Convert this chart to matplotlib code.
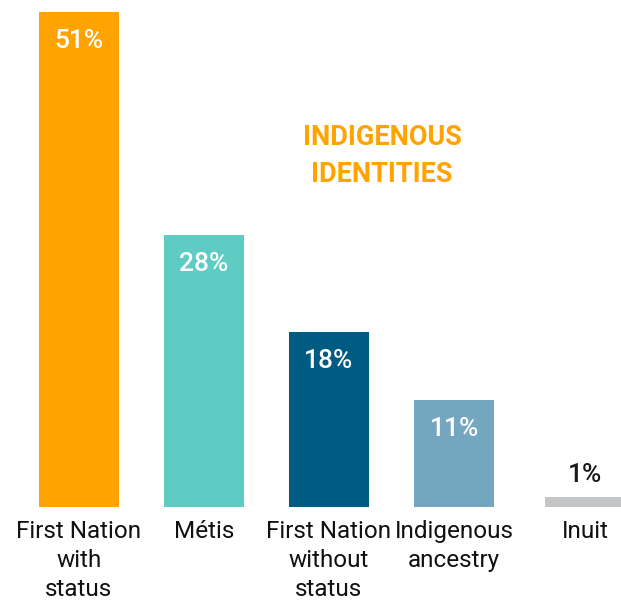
import matplotlib
matplotlib.use("Agg")
import matplotlib.pyplot as plt

categories = ["First Nation\nwith\nstatus", "Métis", "First Nation\nwithout\nstatus",
              "Indigenous\nancestry", "Inuit"]
values = [51, 28, 18, 11, 1]
value_labels = ["51%", "28%", "18%", "11%", "1%"]
title = "INDIGENOUS\nIDENTITIES"

colors = ["#FFA300", "#5FCCC3", "#005B82", "#74A7BF", "#C4C5C7"]
positions = [0, 1, 2, 3, 4.05]

W, H = 621, 603
fig = plt.figure(figsize=(W / 100, H / 100), dpi=100)
base_px = 506.5
ax = fig.add_axes([0, (H - base_px) / H, 1, base_px / H])
px_per_unit = 125.0
x0 = 79.0
ax.set_xlim(-x0 / px_per_unit, (W - x0) / px_per_unit)
px_per_pct = (base_px - 12) / 51.0
ax.set_ylim(0, base_px / px_per_pct)

bars = ax.bar(positions, values, width=80 / px_per_unit, color=colors)

for b, v, lab in zip(bars, values, value_labels):
    cx = b.get_x() + b.get_width() / 2
    if v >= 5:
        ax.annotate(lab, (cx, v), xytext=(0, -12), textcoords="offset points",
                    ha="center", va="top", color="white", fontsize=19,
                    fontweight="medium", family="Roboto")
    else:
        ax.annotate(lab, (cx, v), xytext=(0, 7), textcoords="offset points",
                    ha="center", va="bottom", color="#1a1a1a", fontsize=19,
                    fontweight="medium", family="Roboto")

ax.text(382 / px_per_unit - x0 / px_per_unit, (base_px - 156) / px_per_pct, title,
        ha="center", va="center", color=colors[0], fontsize=19.5, fontweight="bold",
        family="Roboto", linespacing=1.5)

ax.set_xticks(positions)
ax.set_xticklabels(categories, fontsize=17.5, family="Roboto", color="#111111",
                   linespacing=1.32)
ax.tick_params(axis="x", length=0, pad=10)
ax.set_yticks([])
for s in ax.spines.values():
    s.set_visible(False)

fig.savefig("out.png", dpi=100)
